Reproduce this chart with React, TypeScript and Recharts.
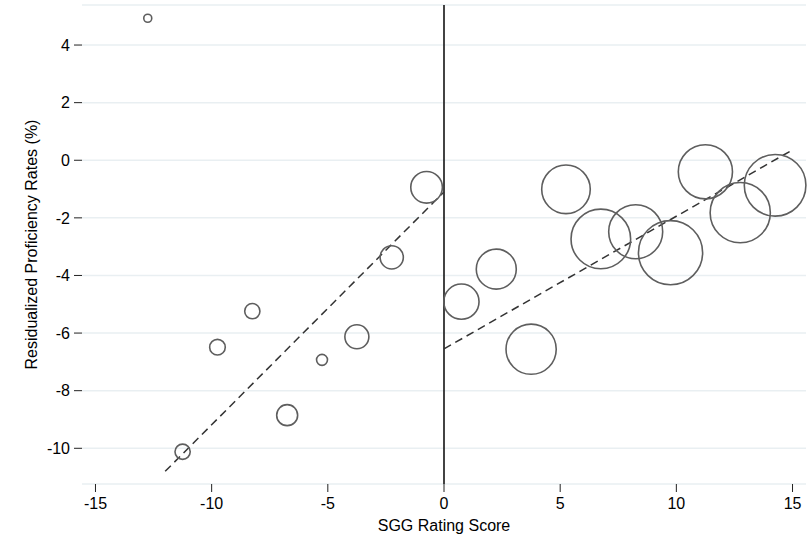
import React from "react";
import {
  ScatterChart,
  Scatter,
  XAxis,
  YAxis,
  CartesianGrid,
  ReferenceLine,
} from "recharts";

// bin midpoints of the SGG rating score (bins of 1.5)
const binCenters = [
  -12.75, -11.25, -9.75, -8.25, -6.75, -5.25, -3.75, -2.25, -0.75,
  0.75, 2.25, 3.75, 5.25, 6.75, 8.25, 9.75, 11.25, 12.75, 14.25,
];
// residualized proficiency rates (%)
const residuals = [
  4.93, -10.12, -6.49, -5.24, -8.85, -6.93, -6.13, -3.37, -0.94,
  -4.91, -3.78, -6.56, -1.01, -2.73, -2.48, -3.21, -0.4, -1.82, -0.87,
];
// bin weights (number of observations) -> bubble area
const weights = [
  16, 58, 61, 58, 110, 30, 144, 135, 250,
  310, 400, 630, 590, 888, 729, 1030, 734, 906, 949,
];

const xTicks = [-15, -10, -5, 0, 5, 10, 15];
const yTicks = [-10, -8, -6, -4, -2, 0, 2, 4];

// linear fits on each side of the cutoff
const leftFitX = [-12, 0];
const leftFitY = [-10.8, -1.1];
const rightFitX = [0, 15];
const rightFitY = [-6.55, 0.36];

const data = binCenters.map((x, i) => ({ x, y: residuals[i], w: weights[i] }));

const FONT = "'Liberation Sans', Arial, Helvetica, sans-serif";

function Bubble(props: any) {
  const { cx, cy, payload } = props;
  if (cx == null || cy == null) return null;
  return (
    <circle
      cx={cx}
      cy={cy}
      r={Math.sqrt(payload.w)}
      fill="none"
      stroke="#5e5e5e"
      strokeWidth={1.6}
    />
  );
}

export default function App() {
  return (
    <div style={{ position: "absolute", left: 0, top: 0, width: 808, height: 540, background: "#fff", fontFamily: FONT }}>
      <ScatterChart
        width={808}
        height={540}
        margin={{ top: 5, right: 2, bottom: 0, left: 0 }}
      >
        <CartesianGrid horizontal vertical={false} stroke="#e9eff2" strokeWidth={1.5} />
        <XAxis
          type="number"
          dataKey="x"
          domain={[-15.58, 15.58]}
          ticks={xTicks}
          axisLine={false}
          tickLine={{ stroke: "#222" }}
          tickSize={8}
          tickMargin={6}
          height={56}
          tick={{ fill: "#000", fontSize: 16, fontFamily: FONT }}
          label={{ value: "SGG Rating Score", position: "insideBottom", offset: 9, fill: "#000", fontSize: 16, fontFamily: FONT }}
        />
        <YAxis
          type="number"
          dataKey="y"
          domain={[-11.24, 5.39]}
          ticks={yTicks}
          axisLine={false}
          tickLine={{ stroke: "#222" }}
          tickSize={8}
          tickMargin={4}
          width={82}
          tick={{ fill: "#000", fontSize: 16, fontFamily: FONT }}
          label={{
            value: "Residualized Proficiency Rates (%)",
            angle: -90,
            position: "insideLeft",
            offset: 31,
            fill: "#000",
            fontSize: 16,
            fontFamily: FONT,
            style: { textAnchor: "middle" },
          }}
        />
        <ReferenceLine x={0} stroke="#222" strokeWidth={1.7} />
        <ReferenceLine
          segment={[
            { x: leftFitX[0], y: leftFitY[0] },
            { x: leftFitX[1], y: leftFitY[1] },
          ]}
          stroke="#333"
          strokeWidth={1.5}
          strokeDasharray="8 5"
          ifOverflow="visible"
        />
        <ReferenceLine
          segment={[
            { x: rightFitX[0], y: rightFitY[0] },
            { x: rightFitX[1], y: rightFitY[1] },
          ]}
          stroke="#333"
          strokeWidth={1.5}
          strokeDasharray="8 5"
          ifOverflow="visible"
        />
        <Scatter data={data} shape={<Bubble />} isAnimationActive={false} />
      </ScatterChart>
    </div>
  );
}
